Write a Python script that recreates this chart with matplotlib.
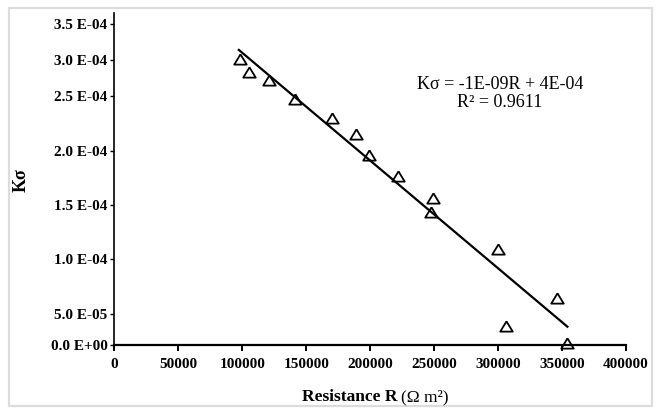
import numpy as np
import matplotlib
matplotlib.use("Agg")
import matplotlib.pyplot as plt
from matplotlib.patches import Rectangle

# ---- data ----
resistance = [98000, 105000, 121000, 141500, 170000, 189000, 199000,
              221500, 249000, 248000, 300000, 346000, 306000, 354000]
k_sigma = [3.02e-4, 2.83e-4, 2.72e-4, 2.47e-4, 2.30e-4, 2.15e-4, 1.96e-4,
           1.77e-4, 1.56e-4, 1.43e-4, 1.09e-4, 0.65e-4, 0.30e-4, 0.03e-4]
trend_r = [97300, 354400]
trend_k = [3.14e-4, 0.295e-4]

x_ticks = [0, 50000, 100000, 150000, 200000, 250000, 300000, 350000, 400000]
x_tick_labels = ["0", "50000", "100000", "150000", "200000", "250000",
                 "300000", "350000", "400000"]
y_ticks = [0.0, 0.5e-4, 1.0e-4, 1.5e-4, 2.0e-4, 2.5e-4, 3.0e-4, 3.5e-4]
y_tick_labels = ["0.0 E+00", "5.0 E-05", "1.0 E-04", "1.5 E-04",
                 "2.0 E-04", "2.5 E-04", "3.0 E-04", "3.5 E-04"]
equation_text = "K\u03c3 = -1E-09R + 4E-04\nR\u00b2 = 0.9611"

# ---- layout: the reference's y axis is not evenly spaced ----
y_top = 3.657e-4
scale_vals = np.array(y_ticks + [y_top])
scale_pos = np.array([0, 31, 85.7, 140.3, 194.3, 249, 285, 321, 332.3])


def fwd(v):
    return np.interp(np.asarray(v, dtype=float), scale_vals, scale_pos)


def inv(p):
    return np.interp(np.asarray(p, dtype=float), scale_pos, scale_vals)


W, H = 656, 408
fig = plt.figure(figsize=(W / 100, H / 100), dpi=100)
serif = "Liberation Serif"

# light grey frame around the figure
fig.patches.append(Rectangle((9 / W, 2 / H), (652 - 9) / W, (406 - 8) / H,
                             transform=fig.transFigure, fill=False,
                             edgecolor="#dcdcdc", lw=1.6))

ax = fig.add_axes([114.5 / W, 63 / H, (625.7 - 114.5) / W, 332.3 / H])
ax.set_yscale("function", functions=(fwd, inv))
ax.set_xlim(0, 400000)
ax.set_ylim(0, y_top)

ax.plot(trend_r, trend_k, color="black", lw=1.6, zorder=3)
tri = [(0, 0.82), (-1, -0.82), (1, -0.82), (0, 0.82)]
ax.plot(resistance, k_sigma, linestyle="none", marker=tri, markersize=9,
        markerfacecolor="none", markeredgecolor="black",
        markeredgewidth=1.3, clip_on=False, zorder=4)

ax.set_xticks(x_ticks)
ax.set_xticklabels(x_tick_labels, fontfamily=serif, fontweight="bold",
                   fontsize=11)
ax.set_yticks(y_ticks)
ax.set_yticklabels(y_tick_labels, fontfamily=serif, fontweight="bold",
                   fontsize=11)
ax.minorticks_off()
ax.tick_params(axis="x", direction="out", length=4, width=1.4, pad=5,
               colors="black")
ax.tick_params(axis="y", direction="out", length=3, width=1.0, pad=2,
               colors="black")

for s in ("top", "right"):
    ax.spines[s].set_visible(False)
ax.spines["left"].set_linewidth(1.2)
ax.spines["bottom"].set_linewidth(1.6)

# equation annotation
fig.text(500 / W, 1 - 93.7 / H, equation_text, ha="center", va="center",
         multialignment="center", fontfamily=serif, fontsize=13,
         linespacing=1.12)

# axis labels (bold + regular parts)
fig.text(397.5 / W, 1 - 397 / H, "Resistance R", ha="right", va="center",
         fontfamily=serif, fontweight="bold", fontsize=12.5)
fig.text(401 / W, 1 - 397 / H, "(\u03a9 m\u00b2)", ha="left", va="center",
         fontfamily=serif, fontsize=12.5)
fig.text(21.5 / W, 1 - 180 / H, "K\u03c3", rotation=90, ha="center",
         va="center", fontfamily=serif, fontweight="bold", fontsize=13)

fig.savefig("out.png", dpi=100)
